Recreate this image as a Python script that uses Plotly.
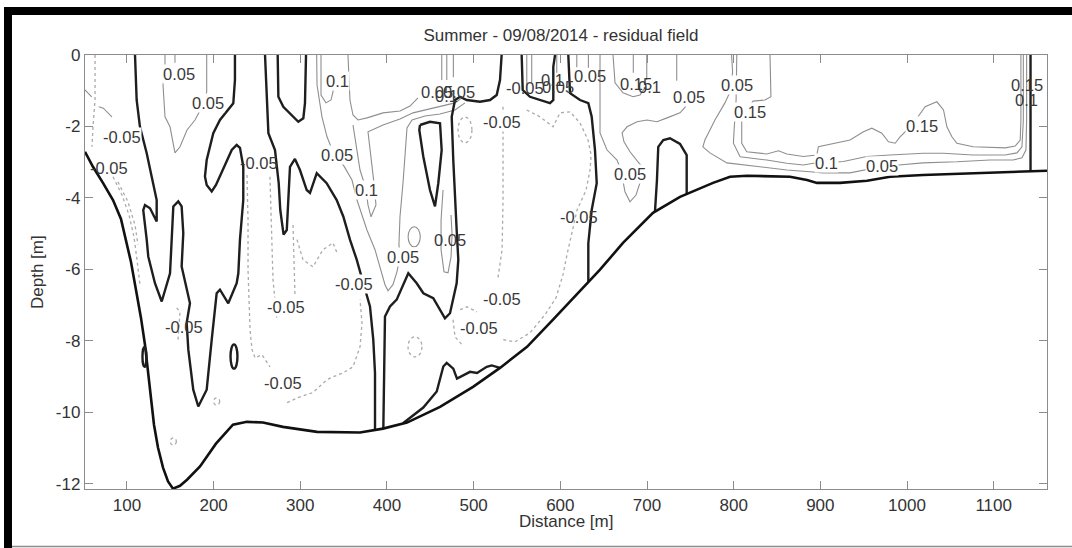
import plotly.graph_objects as go

# ---------------- axes ----------------
x_ticks = [100, 200, 300, 400, 500, 600, 700, 800, 900, 1000, 1100]
y_ticks = [0, -2, -4, -6, -8, -10, -12]
x_range = [51.6, 1161.5]
y_range = [-12.15, 0]

# ---------------- bottom profile (bathymetry) ----------------
bathy_x = [51.6, 60.8, 72.3, 83.9, 93.1, 98.9, 104.6, 110.4, 116.2, 120.8, 124.3, 127.7, 131.2,
           135.8, 141.6, 147.4, 153.1, 161.2, 169.3, 184.3, 202.7, 222.3, 238.4, 256.9, 280.0,
           319.3, 351.6, 368.9, 395.4, 423.1, 461.2, 499.3, 530.4, 561.6, 591.6, 630.8, 645.8,
           672.3, 706.9, 738.1, 776.2, 795.8, 815.4, 865.0, 884.6, 896.1, 922.7, 953.9, 980.4,
           1018.5, 1057.7, 1141.9, 1161.5]
bathy_z = [-2.71, -3.13, -3.58, -4.06, -4.59, -5.17, -5.79, -6.57, -7.36, -8.11, -8.87, -9.65, -10.35,
           -10.99, -11.55, -11.94, -12.14, -12.06, -11.89, -11.52, -10.88, -10.35, -10.27, -10.29, -10.41,
           -10.55, -10.57, -10.57, -10.46, -10.29, -9.85, -9.29, -8.76, -8.17, -7.41, -6.38, -6.01,
           -5.26, -4.42, -3.97, -3.58, -3.41, -3.38, -3.41, -3.50, -3.58, -3.58, -3.52, -3.41,
           -3.36, -3.33, -3.27, -3.24]

# ---------------- zero contours (thick black) ----------------
zero_a_x = [109.3, 111.2, 115.0, 122.8, 128.5, 134.3, 134.3, 126.6, 120.8, 118.8, 122.8, 124.6, 132.3,
            140.1, 149.7, 151.6, 153.5, 159.2, 163.1, 165.0, 163.1, 172.7, 168.9, 170.8, 176.5, 182.3,
            192.0, 197.8, 203.5, 207.3, 216.9, 226.6, 228.5, 230.4, 232.7, 234.2, 234.2, 230.4, 226.6,
            220.9, 213.1, 202.7, 197.8, 192.0, 190.0, 192.0, 199.6, 207.3, 222.7, 224.6, 224.6]
zero_a_z = [0, -1.26, -2.01, -2.75, -3.40, -4.06, -4.66, -4.29, -4.20, -4.34, -5.17, -5.64, -6.39,
            -6.90, -6.11, -5.17, -4.24, -4.10, -4.24, -4.99, -5.92, -6.95, -7.50, -8.25, -9.37, -9.84,
            -9.37, -7.97, -6.67, -6.57, -6.95, -6.39, -6.11, -5.17, -4.34, -4.06, -3.12, -2.60, -2.52,
            -2.66, -3.08, -3.64, -3.82, -3.64, -3.40, -2.94, -2.19, -1.82, -1.35, -0.70, 0]

zero_b_x = [259.3, 261.2, 263.2, 270.8, 275.1, 276.9, 280.7, 284.4, 286.2, 288.1, 293.8, 299.6, 307.4,
            311.2, 319.0, 330.4, 342.0, 349.6, 357.3, 365.1, 372.7, 380.4, 384.2, 386.2, 386.2]
zero_b_z = [0, -1.26, -2.19, -2.66, -3.59, -4.34, -5.03, -4.90, -4.06, -3.13, -2.91, -3.22, -3.78,
            -3.86, -3.31, -3.59, -4.06, -4.52, -5.17, -5.73, -6.39, -7.04, -7.97, -8.90, -10.51]

zero_c_x = [273.9, 274.7, 280.4, 288.1, 297.7, 303.5, 305.4, 306.6]
zero_c_z = [0, -1.17, -1.45, -1.63, -1.87, -1.77, -1.35, 0]

zero_d_x = [395.8, 396.6, 397.7, 403.5, 411.2, 424.6, 434.3, 442.0, 453.4, 466.9, 472.7, 480.4, 482.3,
            480.4, 478.5, 476.5, 474.7, 478.5, 484.3, 492.0, 507.3, 518.9, 526.6, 530.4, 532.3]
zero_d_z = [-10.46, -9.09, -7.32, -7.04, -6.85, -6.11, -6.39, -6.67, -6.81, -7.37, -7.23, -6.39, -5.73,
            -4.90, -4.06, -2.94, -1.73, -1.26, -1.17, -1.26, -1.31, -1.26, -1.12, -0.70, 0]

zero_f_x = [438.1, 449.6, 461.2, 463.1, 459.2, 455.4, 449.6, 441.9, 437.3, 438.1]
zero_f_z = [-1.96, -1.87, -1.91, -2.66, -3.59, -4.24, -3.78, -2.84, -2.10, -1.96]

zero_g1_x = [555.4, 556.6, 565.0, 576.6, 588.1, 591.9, 591.9, 593.9]
zero_g1_z = [0, -0.98, -1.17, -1.26, -1.35, -1.26, -0.33, 0]

zero_g2_x = [609.2, 611.2, 622.7, 632.3, 636.2, 640.0, 642.0, 636.2, 632.3, 632.3]
zero_g2_z = [0, -1.07, -1.26, -1.35, -1.73, -2.66, -3.59, -4.34, -5.27, -6.34]

zero_h_x = [709.2, 711.5, 713.0, 718.8, 726.5, 738.1, 745.8, 745.8, 745.8]
zero_h_z = [-4.39, -3.50, -2.57, -2.38, -2.33, -2.49, -2.80, -3.59, -3.89]

zero_i_x = [1142.5, 1142.5]
zero_i_z = [0, -3.27]

zero_k_x = [418.5, 441.9, 457.4, 465.0, 468.9, 476.5, 480.8, 488.0, 495.8, 503.9, 515.1, 520.9, 530.4]
zero_k_z = [-10.31, -9.87, -9.42, -8.72, -8.62, -8.78, -9.06, -8.97, -8.87, -8.90, -8.73, -8.69, -8.76]

# small closed zero contours: centre x, centre z, half width, half height
zero_loop_cx = [223.5, 120.2]
zero_loop_cz = [-8.44, -8.45]
zero_loop_rx = [4.0, 2.3]
zero_loop_rz = [0.34, 0.28]

# ---------------- positive contours (thin grey, solid) ----------------
pos_1_x = [143.9, 143.9, 141.6, 143.9, 149.7, 155.4, 161.2, 169.3, 178.5, 187.7, 192.0, 192.0]
pos_1_z = [0, -0.42, -0.84, -1.73, -2.01, -2.74, -2.57, -2.10, -1.82, -1.40, -1.03, 0]
pos_2_x = [155.4, 155.4]
pos_2_z = [0, -0.22]
pos_3_x = [51.6, 59.3]
pos_3_z = [-0.98, -1.17]
pos_4_x = [67.4, 72.7, 82.7]
pos_4_z = [-1.45, -1.49, -1.73]
pos_a_x = [318.9, 319.3, 325.0, 330.8, 335.4, 342.3, 351.6, 359.6, 365.4, 371.2, 376.9, 386.2, 393.1,
           397.7, 401.2, 406.9, 411.5, 415.0, 413.8, 415.0, 418.5, 420.8, 423.1, 428.9, 443.9, 461.2,
           478.5, 490.0]
pos_a_z = [0, -0.84, -1.73, -2.29, -2.57, -2.80, -3.16, -3.50, -4.06, -4.48, -4.90, -5.45, -6.01,
           -6.43, -6.60, -6.43, -6.07, -5.65, -5.31, -4.53, -3.58, -2.66, -2.04, -1.82, -1.71, -1.65,
           -1.54, -1.34]
pos_b_x = [360.8, 364.3, 368.9, 375.8, 378.1, 381.6, 387.3, 385.0, 380.4, 378.1, 395.4, 415.0, 430.0,
           443.9, 461.2, 478.5, 486.6]
pos_b_z = [-1.96, -2.52, -3.22, -3.75, -4.20, -4.53, -4.20, -3.58, -2.66, -2.15, -1.96, -1.79, -1.62,
           -1.54, -1.45, -1.34, -1.20]
pos_c_x = [355.0, 357.3, 360.8, 366.6, 377.0, 395.4, 415.0, 426.6, 435.8]
pos_c_z = [0, -1.26, -1.68, -1.82, -1.76, -1.62, -1.57, -1.43, -1.20]
pos_d_x = [323.9, 323.9, 329.6, 335.4, 337.7, 338.9]
pos_d_z = [0, -1.12, -1.34, -1.26, -1.03, -0.70]
pos_e_x = [464.7, 462.4, 462.4, 465.8, 470.4, 473.9, 475.1, 473.9]
pos_e_z = [-3.78, -4.62, -5.45, -6.07, -6.10, -5.65, -5.03, -4.48]
pos_r2_x = [645.8, 645.8, 653.9, 665.4, 670.0, 674.6, 680.4, 687.3, 691.9, 695.4, 689.6, 680.4, 673.5,
            671.2, 677.0, 688.5, 700.0, 711.5, 723.1, 738.1, 745.0]
pos_r2_z = [0, -2.18, -2.66, -2.94, -3.22, -3.83, -4.11, -3.92, -3.58, -3.16, -2.99, -2.71, -2.43,
            -2.18, -2.01, -1.87, -1.82, -1.87, -1.76, -1.62, -1.43]
pos_t_x = [660.8, 663.1, 672.3, 683.9, 691.9, 697.7]
pos_t_z = [0, -0.78, -1.06, -1.17, -1.12, -0.92]
pos_r1_x = [797.6, 798.8, 795.7, 789.9, 778.4, 766.8, 764.5, 772.6, 792.2, 826.8, 861.4, 888.0, 903.0,
            934.1, 951.4, 969.9, 990.6, 1018.3, 1057.5, 1095.6, 1122.2, 1132.6, 1137.2, 1138.0, 1138.0]
pos_r1_z = [0, -0.48, -1.04, -1.34, -1.82, -2.38, -2.57, -2.74, -3.02, -3.13, -3.22, -3.27, -3.30,
            -3.30, -3.22, -3.13, -3.08, -3.02, -2.99, -2.94, -2.94, -2.88, -2.66, -1.82, 0]
pos_r10_x = [803.6, 802.8, 800.5, 799.7, 807.4, 838.2, 861.3, 880.4, 892.0, 906.6, 926.6, 953.5, 980.4,
             1018.9, 1041.9, 1076.1, 1113.0, 1126.9, 1132.6, 1134.2, 1134.2]
pos_r10_z = [0, -1.26, -2.10, -2.47, -2.85, -2.94, -3.03, -3.08, -3.03, -3.02, -2.98, -2.84, -2.80,
             -2.75, -2.75, -2.80, -2.80, -2.74, -2.57, -1.82, 0]
pos_r15_x = [841.9, 843.0, 836.1, 822.3, 809.3, 809.3, 815.1, 838.2, 851.7, 861.3, 880.4, 895.9, 897.8,
             907.4, 934.3, 949.7, 959.4, 970.9, 978.6, 986.3, 992.0, 1005.9, 1020.9, 1034.4, 1042.1,
             1046.0, 1051.8, 1057.5, 1076.3, 1113.3, 1124.8, 1130.6, 1131.4, 1131.4]
pos_r15_z = [0, -1.17, -1.26, -1.29, -1.82, -2.47, -2.71, -2.77, -2.68, -2.77, -2.84, -2.80, -2.57,
             -2.52, -2.38, -2.15, -2.05, -2.19, -2.43, -2.47, -2.29, -1.96, -1.45, -1.31, -1.54,
             -2.01, -2.29, -2.47, -2.57, -2.60, -2.55, -2.38, -1.82, 0]
# short grey stubs hanging from the surface: x position, lower end depth
stub_x = [463.2, 469.0, 476.6, 561.3, 567.0, 595.9, 619.0, 632.4, 684.2, 699.7, 734.3]
stub_z = [-0.70, -0.70, -0.62, -0.98, -0.78, -0.50, -0.34, -0.36, -0.50, -0.70, -0.72]

pos_loop_cx = [431.4]
pos_loop_cz = [-5.09]
pos_loop_rx = [7.0]
pos_loop_rz = [0.28]

# ---------------- negative contours (dotted grey) ----------------
neg_1a_x = [63.2, 63.2, 60.8, 59.7]
neg_1a_z = [0, -1.26, -2.01, -2.57]
neg_1b_x = [83.9, 94.3, 102.4, 108.1, 111.6, 115.0]
neg_1b_z = [-3.41, -3.92, -4.48, -5.09, -5.73, -6.43]
neg_1c_x = [89.6, 101.2, 109.3, 112.7]
neg_1c_z = [-3.55, -4.11, -4.76, -5.31]
neg_2a_x = [238.5, 239.7, 239.7, 242.0, 244.3, 247.8, 255.8, 265.0]
neg_2a_z = [-3.36, -4.62, -6.01, -7.69, -8.25, -8.48, -8.39, -8.73]
neg_2b_x = [265.0, 267.3, 268.5, 273.1]
neg_2b_z = [-3.41, -5.31, -6.29, -7.41]
neg_2c_x = [291.6, 293.9]
neg_2c_z = [-4.76, -6.77]
neg_2d_x = [284.7, 299.6, 314.6, 330.8, 337.7, 349.3, 360.8, 368.9, 371.2, 368.9]
neg_2d_z = [-9.73, -9.57, -9.45, -9.09, -9.01, -8.90, -8.73, -8.17, -7.50, -6.85]
neg_2f_x = [296.2, 303.1, 314.6, 326.2, 337.7, 342.3]
neg_2f_z = [-5.17, -5.73, -5.93, -5.45, -5.26, -5.54]
neg_5a_x = [561.2, 576.6, 591.6, 599.7, 611.2, 622.7, 632.0, 635.5, 634.3, 629.7, 619.3, 613.5, 607.7,
            603.1, 595.0, 582.3, 565.0, 547.7, 533.9]
neg_5a_z = [-1.54, -1.73, -2.01, -1.62, -1.59, -1.90, -2.38, -2.80, -3.22, -3.78, -4.34, -4.95, -5.59,
            -6.15, -6.80, -7.27, -7.78, -8.03, -7.97]
neg_5b_x = [484.3, 492.4, 503.9]
neg_5b_z = [-7.13, -7.05, -7.19]
neg_5c_x = [476.2, 478.5, 486.6]
neg_5c_z = [-7.41, -7.89, -8.11]
neg_5d_x = [533.9, 533.9, 532.8, 528.1]
neg_5d_z = [-1.45, -4.06, -5.45, -6.24]
neg_6_x = [157.4, 161.2, 158.9]
neg_6_z = [-7.08, -7.19, -7.97]

neg_loop_cx = [490.0, 432.3, 203.5, 153.5]
neg_loop_cz = [-2.10, -8.17, -9.70, -10.82]
neg_loop_rx = [8.0, 8.0, 3.5, 3.5]
neg_loop_rz = [0.36, 0.28, 0.10, 0.10]

# ---------------- contour labels ----------------
lab_text = ["0.05", "0.05", "-0.05", "-0.05", "-0.05", "0.1", "0.05", "0.1", "0.05", "0.05",
            "0.05", "0.1", "0.05", "-0.05", "-0.05", "0.1", "0.05", "0.05", "0.15", "0.1",
            "0.05", "0.05", "-0.05", "0.05", "0.15", "0.15", "0.1", "0.05", "0.15", "0.1",
            "-0.05", "-0.05", "-0.05", "-0.05", "-0.05", "-0.05"]
lab_x = [160.0, 193.5, 94.8, 79.3, 252.4, 343.2, 342.3, 375.8, 418.5, 472.7,
         457.7, 468.1, 483.1, 559.3, 532.8, 590.5, 597.4, 634.3, 687.4, 702.4,
         748.5, 680.4, 621.5, 804.4, 818.8, 1017.3, 906.6, 970.8, 1138.1, 1138.1,
         361.5, 283.5, 279.5, 165.8, 532.8, 506.2]
lab_z = [-0.53, -1.34, -2.29, -3.16, -3.02, -0.73, -2.80, -3.77, -5.65, -5.17,
         -1.03, -1.15, -1.03, -0.92, -1.87, -0.70, -0.90, -0.59, -0.81, -0.90,
         -1.17, -3.33, -4.53, -0.84, -1.59, -2.00, -3.02, -3.12, -0.84, -1.26,
         -6.41, -7.05, -9.18, -7.61, -6.82, -7.64]
lab_clear = [1, 1, 1, 0, 0, 1, 1, 1, 1, 0,
             0, 0, 0, 0, 1, 0, 0, 0, 0, 0,
             1, 1, 0, 1, 1, 1, 1, 1, 0, 0,
             1, 1, 1, 0, 1, 1]

THICK = dict(color="#1e1e1e", width=2.4)
GREY = dict(color="#8f8f8f", width=1.1)
DOTS = dict(color="#ababab", width=1.3, dash="dot")

fig = go.Figure()


def add_path(xs, zs, style):
    fig.add_trace(go.Scatter(x=xs, y=zs, mode="lines", line=style,
                             hoverinfo="skip", showlegend=False))


for xs, zs in [(neg_1a_x, neg_1a_z), (neg_1b_x, neg_1b_z), (neg_1c_x, neg_1c_z),
               (neg_2a_x, neg_2a_z), (neg_2b_x, neg_2b_z), (neg_2c_x, neg_2c_z),
               (neg_2d_x, neg_2d_z), (neg_2f_x, neg_2f_z), (neg_5a_x, neg_5a_z),
               (neg_5b_x, neg_5b_z), (neg_5c_x, neg_5c_z), (neg_5d_x, neg_5d_z),
               (neg_6_x, neg_6_z)]:
    add_path(xs, zs, DOTS)

for xs, zs in [(pos_1_x, pos_1_z), (pos_2_x, pos_2_z), (pos_3_x, pos_3_z), (pos_4_x, pos_4_z),
               (pos_a_x, pos_a_z), (pos_b_x, pos_b_z), (pos_c_x, pos_c_z), (pos_d_x, pos_d_z),
               (pos_e_x, pos_e_z), (pos_r2_x, pos_r2_z), (pos_t_x, pos_t_z),
               (pos_r1_x, pos_r1_z), (pos_r10_x, pos_r10_z), (pos_r15_x, pos_r15_z)]:
    add_path(xs, zs, GREY)

for sx, sz in zip(stub_x, stub_z):
    add_path([sx, sx], [0, sz], GREY)

for xs, zs in [(zero_a_x, zero_a_z), (zero_b_x, zero_b_z), (zero_c_x, zero_c_z),
               (zero_d_x, zero_d_z), (zero_f_x, zero_f_z), (zero_g1_x, zero_g1_z),
               (zero_g2_x, zero_g2_z), (zero_h_x, zero_h_z), (zero_i_x, zero_i_z),
               (zero_k_x, zero_k_z)]:
    add_path(xs, zs, THICK)

add_path(bathy_x, bathy_z, dict(color="#111111", width=2.6))

shapes = []


def add_loops(cx, cz, rx, rz, style):
    for a, b, c, d in zip(cx, cz, rx, rz):
        shapes.append(dict(type="circle", xref="x", yref="y", x0=a - c, x1=a + c,
                           y0=b - d, y1=b + d, line=style, layer="above"))


add_loops(zero_loop_cx, zero_loop_cz, zero_loop_rx, zero_loop_rz, THICK)
add_loops(pos_loop_cx, pos_loop_cz, pos_loop_rx, pos_loop_rz, GREY)
add_loops(neg_loop_cx, neg_loop_cz, neg_loop_rx, neg_loop_rz, DOTS)

# picture frame: heavy black bars on top and left, thin grey rule at the bottom
shapes += [
    dict(type="rect", xref="paper", yref="paper", x0=-0.0842, x1=1.03, y0=1.0922, y1=1.1106,
         fillcolor="black", line=dict(width=0), layer="above"),
    dict(type="rect", xref="paper", yref="paper", x0=-0.0842, x1=-0.0759, y0=-0.14, y1=1.1106,
         fillcolor="black", line=dict(width=0), layer="above"),
    dict(type="line", xref="paper", yref="paper", x0=-0.0759, x1=1.03, y0=-0.1325, y1=-0.1325,
         line=dict(color="#8c8c8c", width=1.5), layer="above"),
]

annotations = []
for t, lx, lz, clr in zip(lab_text, lab_x, lab_z, lab_clear):
    annotations.append(dict(x=lx, y=lz, xref="x", yref="y", text=t, showarrow=False,
                            font=dict(size=16.5, color="#3a3a3a"),
                            bgcolor="white" if clr else "rgba(0,0,0,0)", borderpad=0))

annotations += [
    dict(text="Distance [m]", xref="paper", yref="paper", x=0.5, y=-0.076,
         xanchor="center", yanchor="middle", showarrow=False,
         font=dict(size=17, color="#333333")),
    dict(text="Depth [m]", xref="paper", yref="paper", x=-0.0499, y=0.5, textangle=-90,
         xanchor="center", yanchor="middle", showarrow=False,
         font=dict(size=17, color="#333333")),
]

axis_common = dict(showgrid=False, zeroline=False, showline=True, linecolor="#8c8c8c",
                   linewidth=1.3, mirror="ticks", ticks="inside", ticklen=8,
                   tickcolor="#8c8c8c", tickwidth=1.3,
                   tickfont=dict(size=17, color="#333333"))

fig.update_layout(
    width=1072, height=548,
    margin=dict(l=85, r=25, t=55, b=59),
    paper_bgcolor="white", plot_bgcolor="white",
    font=dict(family="Liberation Sans, Arial, sans-serif"),
    title=dict(text="Summer - 09/08/2014 - residual field", x=0.5233, xanchor="center",
               y=1 - 35 / 548, yanchor="middle", font=dict(size=17, color="#333333")),
    xaxis=dict(range=x_range, tickvals=x_ticks, ticktext=[str(v) for v in x_ticks],
               **axis_common),
    yaxis=dict(range=y_range, tickvals=y_ticks, ticktext=[str(v) for v in y_ticks],
               **axis_common),
    shapes=shapes,
    annotations=annotations,
)

fig.write_html("out.html")
